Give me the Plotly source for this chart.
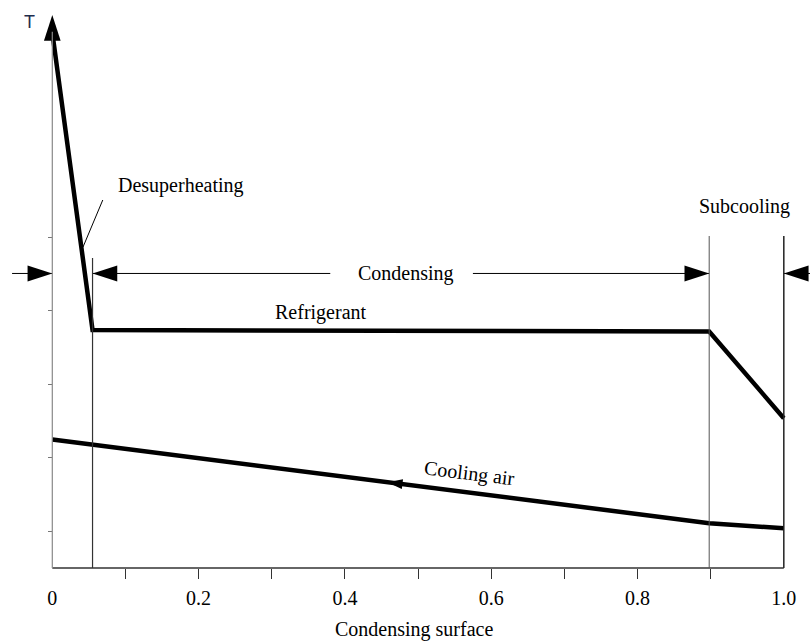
import numpy as np
import plotly.graph_objects as go

# ---------------- data ----------------
surface_ref = [0.0, 0.055, 0.898, 1.0]      # refrigerant x
temp_ref = [7.29, 3.24, 3.22, 2.04]          # refrigerant T
surface_air = [0.0, 0.898, 1.0]              # cooling air x
temp_air = [1.75, 0.61, 0.54]                # cooling air T
zone_bounds = [0.0, 0.055, 0.898, 1.0]       # desuperheating | condensing | subcooling
zone_names = ["Desuperheating", "Condensing", "Subcooling"]
x_tick_vals = [0, 0.2, 0.4, 0.6, 0.8, 1.0]
x_tick_text = ["0", "0.2", "0.4", "0.6", "0.8", "1.0"]
x_minor_ticks = [0.1, 0.2, 0.3, 0.4, 0.5, 0.6, 0.7, 0.8, 0.9]
y_minor_ticks = [0.5, 1.5, 2.5, 3.5, 4.5]

# ---------------- layout constants ----------------
XR = [-0.0715, 1.0358]
YR = [0.0, 7.733]
SERIF = "Liberation Serif, Times New Roman, serif"
DIM_Y = 4.01
Y_TOP = 7.529

fig = go.Figure()

# refrigerant
fig.add_trace(go.Scatter(x=surface_ref, y=temp_ref, mode="lines",
                         line=dict(color="black", width=4.5), hoverinfo="skip"))
# cooling air
fig.add_trace(go.Scatter(x=surface_air, y=temp_air, mode="lines",
                         line=dict(color="black", width=4.5), hoverinfo="skip"))

# direction arrow on cooling air
ax_pt = 0.458
fig.add_trace(go.Scatter(x=[ax_pt], y=[float(np.interp(ax_pt, surface_air, temp_air))],
                         mode="markers",
                         marker=dict(symbol="arrow", size=16, angle=-82.7, color="black",
                                     line=dict(width=0)),
                         hoverinfo="skip"))

# dimension lines
b0, b1, b2, b3 = zone_bounds
dim_x = [b0 - 0.055, b0, None, b1, 0.380, None, 0.575, b2, None, b3, b3 + 0.05]
dim_yv = [DIM_Y if v is not None else None for v in dim_x]
fig.add_trace(go.Scatter(x=dim_x, y=dim_yv, mode="lines",
                         line=dict(color="black", width=1), hoverinfo="skip"))
fig.add_trace(go.Scatter(x=[b0, b1, b2, b3], y=[DIM_Y] * 4, mode="markers",
                         marker=dict(symbol="arrow", size=26, angle=[90, -90, 90, -90],
                                     color="black", line=dict(width=0)),
                         cliponaxis=False, hoverinfo="skip"))

# y axis arrow head
fig.add_trace(go.Scatter(x=[0], y=[Y_TOP], mode="markers",
                         marker=dict(symbol="arrow", size=27, angle=0, color="black",
                                     line=dict(width=0)),
                         cliponaxis=False, hoverinfo="skip"))

shapes = [
    # x axis line
    dict(type="line", xref="x", yref="paper", x0=0, x1=1.0, y0=0, y1=0,
         line=dict(color="#333", width=1.5)),
    # y axis line
    dict(type="line", xref="x", yref="y", x0=0, x1=0, y0=0, y1=7.3,
         line=dict(color="#888", width=1.2)),
    # zone boundaries
    dict(type="line", xref="x", yref="y", x0=b1, x1=b1, y0=0, y1=4.22,
         line=dict(color="#333", width=1.2)),
    dict(type="line", xref="x", yref="y", x0=b2, x1=b2, y0=0, y1=4.52,
         line=dict(color="#555", width=1)),
    dict(type="line", xref="x", yref="y", x0=b3, x1=b3, y0=0, y1=4.52,
         line=dict(color="#222", width=1.5)),
    # leader for desuperheating
    dict(type="line", xref="x", yref="y", x0=0.042, x1=0.069, y0=4.37, y1=5.01,
         line=dict(color="black", width=1)),
]

tf = dict(family=SERIF, size=20, color="black")
annotations = [
    dict(x=0.176, y=5.21, text=zone_names[0], showarrow=False, font=tf),
    dict(x=0.4833, y=4.016, text=zone_names[1], showarrow=False, font=tf),
    dict(x=0.946, y=4.92, text=zone_names[2], showarrow=False, font=tf),
    dict(x=0.367, y=3.478, text="Refrigerant", showarrow=False, font=tf),
    dict(x=0.571, y=1.29, text="Cooling air", showarrow=False, font=tf, textangle=7),
    dict(x=-0.0305, y=7.44, text="T", showarrow=False,
         font=dict(family="Liberation Sans, Arial, sans-serif", size=18, color="#1f2d4d")),
    dict(x=0.4947, xref="x", y=-0.1074, yref="paper", text="Condensing surface",
         showarrow=False, font=tf, yanchor="middle"),
]

fig.update_layout(
    width=810, height=641,
    margin=dict(l=0, r=0, t=0, b=73),
    paper_bgcolor="white", plot_bgcolor="white",
    showlegend=False,
    shapes=shapes, annotations=annotations,
    xaxis=dict(range=XR, showline=False, zeroline=False, showgrid=False,
               tickmode="array", tickvals=x_tick_vals, ticktext=x_tick_text,
               ticks="", tickfont=dict(family=SERIF, size=20, color="black"),
               ticklabelstandoff=16,
               minor=dict(tickmode="array", tickvals=x_minor_ticks, ticks="outside",
                          ticklen=10, tickcolor="#333", tickwidth=1.2, showgrid=False)),
    yaxis=dict(range=YR, anchor="free", position=52 / 810, showline=False,
               zeroline=False, showgrid=False, tickmode="array", tickvals=y_minor_ticks,
               ticks="outside", ticklen=4, tickcolor="#777", showticklabels=False),
)

fig.write_html("out.html")
